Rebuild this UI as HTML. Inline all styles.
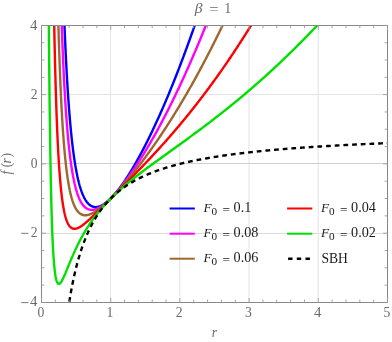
<!DOCTYPE html><html><head><meta charset="utf-8"><style>html,body{margin:0;padding:0;background:#fff}svg{display:block;will-change:transform}text{font-family:"Liberation Serif",serif;}</style></head><body>
<svg width="392" height="342" viewBox="0 0 392 342">
<rect width="392" height="342" fill="#fff"/>
<defs><clipPath id="c"><rect x="41.50" y="25.40" width="346.00" height="277.00"/></clipPath></defs>
<path d="M110.60,25.40 V302.40 M179.80,25.40 V302.40 M249.00,25.40 V302.40 M318.20,25.40 V302.40" stroke="#e3e3e3" stroke-width="1" fill="none"/>
<path d="M41.50,94.5 H387.50" stroke="#e3e3e3" stroke-width="1" fill="none"/>
<path d="M41.50,163.5 H387.50" stroke="#cfcfcf" stroke-width="1" fill="none"/>
<path d="M41.50,233.5 H387.50" stroke="#dcdcdc" stroke-width="1" fill="none"/>
<g clip-path="url(#c)" fill="none" stroke-linejoin="round">
<path d="M63.72,5.34 L63.83,8.47 L63.94,11.55 L64.06,14.58 L64.17,17.55 L64.28,20.47 L64.39,23.35 L64.51,26.17 L64.62,28.95 L64.73,31.68 L64.85,34.37 L64.96,37.01 L65.07,39.61 L65.19,42.16 L65.30,44.67 L65.41,47.15 L65.53,49.58 L65.64,51.97 L65.75,54.32 L65.87,56.64 L65.98,58.92 L66.09,61.16 L66.21,63.37 L66.32,65.54 L66.43,67.68 L66.55,69.78 L66.66,71.85 L66.77,73.89 L66.89,75.89 L67.00,77.87 L67.11,79.81 L67.23,81.72 L67.34,83.61 L67.45,85.46 L67.56,87.29 L67.68,89.09 L67.79,90.86 L67.90,92.60 L68.02,94.32 L68.13,96.01 L68.24,97.67 L68.36,99.31 L68.47,100.93 L68.58,102.52 L68.70,104.09 L68.81,105.63 L68.92,107.15 L69.04,108.65 L69.15,110.13 L69.26,111.58 L69.38,113.02 L69.49,114.43 L69.60,115.82 L69.72,117.19 L69.83,118.54 L69.94,119.87 L70.06,121.18 L70.17,122.48 L70.28,123.75 L70.40,125.00 L70.51,126.24 L70.62,127.46 L70.73,128.66 L70.85,129.85 L70.96,131.02 L71.07,132.17 L71.19,133.30 L71.30,134.42 L71.41,135.52 L71.53,136.61 L71.64,137.68 L71.75,138.74 L71.87,139.78 L71.98,140.80 L72.09,141.82 L72.21,142.81 L72.32,143.80 L72.43,144.77 L72.55,145.73 L72.66,146.67 L72.77,147.60 L72.89,148.52 L73.00,149.42 L73.11,150.31 L73.23,151.19 L73.34,152.06 L73.45,152.91 L73.57,153.76 L73.68,154.59 L73.79,155.41 L73.91,156.22 L74.02,157.01 L74.13,157.80 L74.24,158.58 L74.36,159.34 L74.47,160.10 L74.58,160.84 L74.70,161.57 L74.81,162.30 L74.92,163.01 L75.04,163.72 L75.15,164.41 L75.26,165.10 L75.38,165.77 L75.49,166.44 L75.60,167.10 L75.72,167.74 L75.83,168.38 L75.94,169.01 L76.06,169.64 L76.17,170.25 L76.28,170.86 L76.40,171.45 L76.51,172.04 L76.62,172.62 L76.74,173.19 L76.85,173.76 L76.96,174.32 L77.08,174.87 L77.19,175.41 L77.30,175.94 L77.41,176.47 L77.53,176.99 L77.64,177.51 L77.75,178.01 L77.87,178.51 L77.98,179.00 L78.09,179.49 L78.21,179.97 L78.32,180.44 L78.43,180.91 L78.55,181.37 L78.66,181.82 L78.77,182.27 L78.89,182.71 L79.00,183.14 L79.11,183.57 L79.23,183.99 L79.34,184.41 L79.45,184.82 L79.57,185.23 L79.68,185.63 L79.79,186.02 L79.91,186.41 L80.02,186.79 L80.13,187.17 L80.25,187.54 L80.36,187.91 L80.47,188.27 L80.58,188.63 L80.70,188.98 L80.81,189.33 L80.92,189.67 L81.04,190.01 L81.15,190.34 L81.26,190.67 L81.38,190.99 L81.49,191.31 L81.60,191.62 L81.72,191.93 L81.83,192.24 L81.94,192.54 L82.06,192.84 L82.17,193.13 L82.28,193.41 L82.40,193.70 L82.51,193.98 L82.62,194.25 L82.74,194.52 L82.85,194.79 L82.96,195.05 L83.08,195.31 L83.19,195.57 L83.30,195.82 L83.42,196.07 L83.53,196.31 L83.64,196.55 L83.75,196.79 L83.87,197.02 L83.98,197.25 L84.09,197.47 L84.21,197.70 L84.32,197.91 L84.43,198.13 L84.55,198.34 L84.66,198.55 L84.77,198.75 L84.89,198.96 L85.00,199.16 L85.11,199.35 L85.23,199.54 L85.34,199.73 L85.45,199.92 L85.57,200.10 L85.68,200.28 L85.79,200.46 L85.91,200.63 L86.02,200.80 L86.13,200.97 L86.25,201.13 L86.36,201.30 L86.47,201.46 L86.59,201.61 L86.70,201.77 L86.81,201.92 L86.92,202.07 L87.04,202.21 L87.15,202.35 L87.26,202.49 L87.38,202.63 L87.49,202.77 L87.60,202.90 L87.72,203.03 L87.83,203.16 L87.94,203.28 L88.06,203.41 L88.17,203.53 L88.28,203.64 L88.40,203.76 L88.51,203.87 L88.62,203.98 L88.74,204.09 L88.85,204.20 L88.96,204.30 L89.08,204.40 L89.19,204.50 L89.30,204.60 L89.42,204.69 L89.53,204.79 L89.64,204.88 L89.76,204.97 L89.87,205.05 L89.98,205.14 L90.09,205.22 L90.21,205.30 L90.32,205.38 L90.43,205.46 L90.55,205.53 L90.66,205.60 L90.77,205.67 L90.89,205.74 L91.00,205.81 L91.11,205.87 L91.23,205.94 L91.34,206.00 L91.45,206.06 L91.57,206.11 L91.68,206.17 L91.79,206.22 L91.91,206.27 L92.02,206.33 L92.13,206.37 L92.25,206.42 L92.36,206.47 L92.47,206.51 L92.59,206.55 L92.70,206.59 L92.81,206.63 L92.93,206.67 L93.04,206.70 L93.15,206.73 L93.26,206.77 L93.38,206.80 L93.49,206.83 L93.60,206.85 L93.72,206.88 L93.83,206.90 L93.94,206.93 L94.06,206.95 L94.17,206.97 L94.28,206.98 L94.40,207.00 L94.51,207.02 L94.62,207.03 L94.74,207.04 L94.85,207.05 L94.96,207.06 L95.08,207.07 L95.19,207.08 L95.30,207.08 L95.42,207.09 L95.53,207.09 L95.64,207.09 L95.76,207.09 L95.87,207.09 L95.98,207.09 L96.10,207.09 L96.21,207.08 L96.32,207.07 L96.43,207.07 L96.55,207.06 L96.66,207.05 L96.77,207.04 L96.89,207.02 L97.00,207.01 L97.11,206.99 L97.23,206.98 L97.34,206.96 L97.45,206.94 L97.57,206.92 L97.68,206.90 L97.79,206.88 L97.91,206.86 L98.02,206.83 L98.13,206.81 L98.25,206.78 L98.36,206.75 L98.47,206.72 L98.59,206.69 L98.70,206.66 L98.81,206.63 L98.93,206.60 L99.04,206.56 L99.15,206.53 L99.27,206.49 L99.38,206.46 L99.49,206.42 L99.60,206.38 L99.72,206.34 L99.83,206.30 L99.94,206.26 L100.06,206.21 L100.17,206.17 L100.28,206.12 L100.40,206.08 L100.51,206.03 L100.62,205.98 L100.74,205.93 L100.85,205.88 L100.96,205.83 L101.08,205.78 L101.19,205.73 L101.30,205.67 L101.42,205.62 L101.53,205.56 L101.64,205.51 L101.76,205.45 L101.87,205.39 L101.98,205.33 L102.10,205.27 L102.21,205.21 L102.32,205.15 L102.44,205.09 L102.55,205.02 L102.66,204.96 L102.77,204.89 L102.89,204.83 L103.00,204.76 L103.11,204.69 L103.23,204.63 L103.34,204.56 L103.45,204.49 L103.57,204.42 L103.68,204.34 L103.79,204.27 L103.91,204.20 L104.02,204.12 L104.13,204.05 L104.25,203.97 L104.36,203.90 L104.47,203.82 L104.59,203.74 L104.70,203.66 L104.81,203.58 L104.93,203.50 L105.04,203.42 L105.15,203.34 L105.27,203.26 L105.38,203.18 L105.49,203.09 L105.61,203.01 L105.72,202.92 L105.83,202.84 L105.94,202.75 L106.06,202.66 L106.17,202.58 L106.28,202.49 L106.40,202.40 L106.51,202.31 L106.62,202.22 L106.74,202.13 L106.85,202.03 L106.96,201.94 L107.08,201.85 L107.19,201.75 L107.30,201.66 L107.42,201.56 L107.53,201.47 L107.64,201.37 L107.76,201.27 L107.87,201.17 L107.98,201.08 L108.10,200.98 L108.21,200.88 L108.32,200.78 L108.44,200.67 L108.55,200.57 L108.66,200.47 L108.78,200.37 L108.89,200.26 L109.00,200.16 L109.11,200.05 L109.23,199.95 L109.34,199.84 L109.45,199.74 L109.57,199.63 L109.68,199.52 L109.79,199.41 L109.91,199.30 L110.02,199.19 L110.13,199.08 L110.25,198.97 L110.36,198.86 L110.47,198.75 L110.59,198.64 L110.70,198.53 L111.39,197.82 L112.09,197.10 L112.78,196.35 L113.47,195.59 L114.17,194.80 L114.86,194.00 L115.56,193.18 L116.25,192.35 L116.94,191.49 L117.64,190.62 L118.33,189.74 L119.02,188.83 L119.72,187.92 L120.41,186.98 L121.11,186.03 L121.80,185.07 L122.49,184.10 L123.19,183.10 L123.88,182.10 L124.57,181.08 L125.27,180.05 L125.96,179.01 L126.66,177.95 L127.35,176.88 L128.04,175.80 L128.74,174.70 L129.43,173.59 L130.12,172.47 L130.82,171.34 L131.51,170.20 L132.21,169.05 L132.90,167.88 L133.59,166.70 L134.29,165.51 L134.98,164.31 L135.67,163.10 L136.37,161.88 L137.06,160.65 L137.76,159.41 L138.45,158.15 L139.14,156.89 L139.84,155.62 L140.53,154.33 L141.22,153.04 L141.92,151.73 L142.61,150.42 L143.31,149.09 L144.00,147.76 L144.69,146.41 L145.39,145.06 L146.08,143.69 L146.77,142.32 L147.47,140.93 L148.16,139.54 L148.86,138.13 L149.55,136.72 L150.24,135.30 L150.94,133.87 L151.63,132.43 L152.32,130.98 L153.02,129.52 L153.71,128.05 L154.41,126.57 L155.10,125.08 L155.79,123.58 L156.49,122.08 L157.18,120.56 L157.87,119.04 L158.57,117.50 L159.26,115.96 L159.96,114.41 L160.65,112.85 L161.34,111.28 L162.04,109.70 L162.73,108.11 L163.42,106.51 L164.12,104.91 L164.81,103.29 L165.51,101.67 L166.20,100.04 L166.89,98.40 L167.59,96.75 L168.28,95.09 L168.97,93.42 L169.67,91.74 L170.36,90.06 L171.05,88.36 L171.75,86.66 L172.44,84.95 L173.14,83.23 L173.83,81.50 L174.52,79.76 L175.22,78.02 L175.91,76.26 L176.60,74.50 L177.30,72.72 L177.99,70.94 L178.69,69.15 L179.38,67.35 L180.07,65.55 L180.77,63.73 L181.46,61.91 L182.15,60.07 L182.85,58.23 L183.54,56.38 L184.24,54.52 L184.93,52.66 L185.62,50.78 L186.32,48.89 L187.01,47.00 L187.70,45.10 L188.40,43.19 L189.09,41.27 L189.79,39.34 L190.48,37.41 L191.17,35.46 L191.87,33.51 L192.56,31.55 L193.25,29.58 L193.95,27.60 L194.64,25.61 L195.34,23.61 L196.03,21.61 L196.72,19.59 L197.42,17.57 L198.11,15.54 L198.80,13.50 L199.50,11.46 L200.19,9.40 L200.89,7.34 L201.58,5.26 " stroke="#0000ff" stroke-width="2.4"/>
<path d="M61.11,7.06 L61.22,10.59 L61.34,14.05 L61.45,17.44 L61.56,20.76 L61.68,24.02 L61.79,27.22 L61.90,30.35 L62.02,33.43 L62.13,36.45 L62.24,39.41 L62.36,42.32 L62.47,45.17 L62.58,47.97 L62.70,50.71 L62.81,53.41 L62.92,56.05 L63.04,58.65 L63.15,61.20 L63.26,63.70 L63.38,66.16 L63.49,68.57 L63.60,70.94 L63.72,73.27 L63.83,75.56 L63.94,77.80 L64.06,80.01 L64.17,82.17 L64.28,84.30 L64.39,86.39 L64.51,88.45 L64.62,90.47 L64.73,92.45 L64.85,94.40 L64.96,96.31 L65.07,98.19 L65.19,100.04 L65.30,101.86 L65.41,103.65 L65.53,105.41 L65.64,107.13 L65.75,108.83 L65.87,110.50 L65.98,112.14 L66.09,113.75 L66.21,115.34 L66.32,116.90 L66.43,118.44 L66.55,119.94 L66.66,121.43 L66.77,122.89 L66.89,124.32 L67.00,125.73 L67.11,127.12 L67.23,128.49 L67.34,129.83 L67.45,131.15 L67.56,132.46 L67.68,133.73 L67.79,134.99 L67.90,136.23 L68.02,137.45 L68.13,138.65 L68.24,139.83 L68.36,140.99 L68.47,142.13 L68.58,143.26 L68.70,144.37 L68.81,145.45 L68.92,146.53 L69.04,147.58 L69.15,148.62 L69.26,149.64 L69.38,150.65 L69.49,151.64 L69.60,152.61 L69.72,153.57 L69.83,154.52 L69.94,155.45 L70.06,156.36 L70.17,157.27 L70.28,158.15 L70.40,159.03 L70.51,159.89 L70.62,160.73 L70.73,161.57 L70.85,162.39 L70.96,163.20 L71.07,164.00 L71.19,164.78 L71.30,165.55 L71.41,166.31 L71.53,167.06 L71.64,167.80 L71.75,168.52 L71.87,169.24 L71.98,169.94 L72.09,170.64 L72.21,171.32 L72.32,171.99 L72.43,172.65 L72.55,173.31 L72.66,173.95 L72.77,174.58 L72.89,175.20 L73.00,175.82 L73.11,176.42 L73.23,177.02 L73.34,177.60 L73.45,178.18 L73.57,178.75 L73.68,179.31 L73.79,179.86 L73.91,180.40 L74.02,180.94 L74.13,181.47 L74.24,181.99 L74.36,182.50 L74.47,183.00 L74.58,183.50 L74.70,183.98 L74.81,184.47 L74.92,184.94 L75.04,185.41 L75.15,185.87 L75.26,186.32 L75.38,186.76 L75.49,187.20 L75.60,187.63 L75.72,188.06 L75.83,188.48 L75.94,188.89 L76.06,189.30 L76.17,189.70 L76.28,190.09 L76.40,190.48 L76.51,190.86 L76.62,191.24 L76.74,191.61 L76.85,191.98 L76.96,192.34 L77.08,192.69 L77.19,193.04 L77.30,193.38 L77.41,193.72 L77.53,194.05 L77.64,194.38 L77.75,194.70 L77.87,195.02 L77.98,195.33 L78.09,195.64 L78.21,195.94 L78.32,196.24 L78.43,196.53 L78.55,196.82 L78.66,197.10 L78.77,197.38 L78.89,197.66 L79.00,197.93 L79.11,198.19 L79.23,198.45 L79.34,198.71 L79.45,198.96 L79.57,199.21 L79.68,199.46 L79.79,199.70 L79.91,199.94 L80.02,200.17 L80.13,200.40 L80.25,200.63 L80.36,200.85 L80.47,201.07 L80.58,201.28 L80.70,201.49 L80.81,201.70 L80.92,201.90 L81.04,202.10 L81.15,202.30 L81.26,202.49 L81.38,202.68 L81.49,202.87 L81.60,203.05 L81.72,203.23 L81.83,203.41 L81.94,203.58 L82.06,203.75 L82.17,203.92 L82.28,204.09 L82.40,204.25 L82.51,204.41 L82.62,204.56 L82.74,204.72 L82.85,204.87 L82.96,205.01 L83.08,205.16 L83.19,205.30 L83.30,205.44 L83.42,205.57 L83.53,205.71 L83.64,205.84 L83.75,205.97 L83.87,206.09 L83.98,206.21 L84.09,206.34 L84.21,206.45 L84.32,206.57 L84.43,206.68 L84.55,206.79 L84.66,206.90 L84.77,207.01 L84.89,207.11 L85.00,207.21 L85.11,207.31 L85.23,207.41 L85.34,207.50 L85.45,207.59 L85.57,207.69 L85.68,207.77 L85.79,207.86 L85.91,207.94 L86.02,208.02 L86.13,208.10 L86.25,208.18 L86.36,208.26 L86.47,208.33 L86.59,208.40 L86.70,208.47 L86.81,208.54 L86.92,208.61 L87.04,208.67 L87.15,208.73 L87.26,208.79 L87.38,208.85 L87.49,208.91 L87.60,208.96 L87.72,209.02 L87.83,209.07 L87.94,209.12 L88.06,209.17 L88.17,209.21 L88.28,209.26 L88.40,209.30 L88.51,209.34 L88.62,209.38 L88.74,209.42 L88.85,209.45 L88.96,209.49 L89.08,209.52 L89.19,209.55 L89.30,209.58 L89.42,209.61 L89.53,209.64 L89.64,209.67 L89.76,209.69 L89.87,209.71 L89.98,209.73 L90.09,209.75 L90.21,209.77 L90.32,209.79 L90.43,209.81 L90.55,209.82 L90.66,209.83 L90.77,209.84 L90.89,209.85 L91.00,209.86 L91.11,209.87 L91.23,209.88 L91.34,209.88 L91.45,209.89 L91.57,209.89 L91.68,209.89 L91.79,209.89 L91.91,209.89 L92.02,209.89 L92.13,209.88 L92.25,209.88 L92.36,209.87 L92.47,209.86 L92.59,209.86 L92.70,209.85 L92.81,209.84 L92.93,209.82 L93.04,209.81 L93.15,209.80 L93.26,209.78 L93.38,209.77 L93.49,209.75 L93.60,209.73 L93.72,209.71 L93.83,209.69 L93.94,209.67 L94.06,209.65 L94.17,209.62 L94.28,209.60 L94.40,209.57 L94.51,209.55 L94.62,209.52 L94.74,209.49 L94.85,209.46 L94.96,209.43 L95.08,209.40 L95.19,209.37 L95.30,209.34 L95.42,209.30 L95.53,209.27 L95.64,209.23 L95.76,209.19 L95.87,209.16 L95.98,209.12 L96.10,209.08 L96.21,209.04 L96.32,209.00 L96.43,208.95 L96.55,208.91 L96.66,208.87 L96.77,208.82 L96.89,208.78 L97.00,208.73 L97.11,208.68 L97.23,208.64 L97.34,208.59 L97.45,208.54 L97.57,208.49 L97.68,208.44 L97.79,208.38 L97.91,208.33 L98.02,208.28 L98.13,208.22 L98.25,208.17 L98.36,208.11 L98.47,208.06 L98.59,208.00 L98.70,207.94 L98.81,207.88 L98.93,207.82 L99.04,207.76 L99.15,207.70 L99.27,207.64 L99.38,207.58 L99.49,207.52 L99.60,207.45 L99.72,207.39 L99.83,207.32 L99.94,207.26 L100.06,207.19 L100.17,207.12 L100.28,207.06 L100.40,206.99 L100.51,206.92 L100.62,206.85 L100.74,206.78 L100.85,206.71 L100.96,206.64 L101.08,206.57 L101.19,206.49 L101.30,206.42 L101.42,206.35 L101.53,206.27 L101.64,206.20 L101.76,206.12 L101.87,206.04 L101.98,205.97 L102.10,205.89 L102.21,205.81 L102.32,205.73 L102.44,205.65 L102.55,205.57 L102.66,205.49 L102.77,205.41 L102.89,205.33 L103.00,205.25 L103.11,205.17 L103.23,205.08 L103.34,205.00 L103.45,204.91 L103.57,204.83 L103.68,204.74 L103.79,204.66 L103.91,204.57 L104.02,204.48 L104.13,204.40 L104.25,204.31 L104.36,204.22 L104.47,204.13 L104.59,204.04 L104.70,203.95 L104.81,203.86 L104.93,203.77 L105.04,203.68 L105.15,203.59 L105.27,203.49 L105.38,203.40 L105.49,203.31 L105.61,203.21 L105.72,203.12 L105.83,203.02 L105.94,202.93 L106.06,202.83 L106.17,202.74 L106.28,202.64 L106.40,202.54 L106.51,202.44 L106.62,202.35 L106.74,202.25 L106.85,202.15 L106.96,202.05 L107.08,201.95 L107.19,201.85 L107.30,201.75 L107.42,201.65 L107.53,201.54 L107.64,201.44 L107.76,201.34 L107.87,201.24 L107.98,201.13 L108.10,201.03 L108.21,200.92 L108.32,200.82 L108.44,200.71 L108.55,200.61 L108.66,200.50 L108.78,200.40 L108.89,200.29 L109.00,200.18 L109.11,200.07 L109.23,199.97 L109.34,199.86 L109.45,199.75 L109.57,199.64 L109.68,199.53 L109.79,199.42 L109.91,199.31 L110.02,199.20 L110.13,199.09 L110.25,198.98 L110.36,198.86 L110.47,198.75 L110.59,198.64 L110.70,198.53 L111.39,197.82 L112.09,197.11 L112.78,196.38 L113.47,195.64 L114.17,194.89 L114.86,194.12 L115.56,193.34 L116.25,192.55 L116.94,191.75 L117.64,190.94 L118.33,190.12 L119.02,189.28 L119.72,188.44 L120.41,187.59 L121.11,186.72 L121.80,185.85 L122.49,184.96 L123.19,184.07 L123.88,183.17 L124.57,182.26 L125.27,181.34 L125.96,180.41 L126.66,179.47 L127.35,178.52 L128.04,177.57 L128.74,176.60 L129.43,175.63 L130.12,174.65 L130.82,173.66 L131.51,172.66 L132.21,171.66 L132.90,170.65 L133.59,169.62 L134.29,168.60 L134.98,167.56 L135.67,166.52 L136.37,165.46 L137.06,164.40 L137.76,163.34 L138.45,162.26 L139.14,161.18 L139.84,160.09 L140.53,159.00 L141.22,157.89 L141.92,156.78 L142.61,155.67 L143.31,154.54 L144.00,153.41 L144.69,152.27 L145.39,151.13 L146.08,149.97 L146.77,148.81 L147.47,147.65 L148.16,146.47 L148.86,145.29 L149.55,144.10 L150.24,142.91 L150.94,141.71 L151.63,140.50 L152.32,139.28 L153.02,138.06 L153.71,136.83 L154.41,135.60 L155.10,134.36 L155.79,133.11 L156.49,131.85 L157.18,130.59 L157.87,129.32 L158.57,128.04 L159.26,126.76 L159.96,125.47 L160.65,124.18 L161.34,122.87 L162.04,121.56 L162.73,120.25 L163.42,118.93 L164.12,117.60 L164.81,116.26 L165.51,114.92 L166.20,113.57 L166.89,112.21 L167.59,110.85 L168.28,109.48 L168.97,108.11 L169.67,106.73 L170.36,105.34 L171.05,103.94 L171.75,102.54 L172.44,101.13 L173.14,99.72 L173.83,98.30 L174.52,96.87 L175.22,95.44 L175.91,93.99 L176.60,92.55 L177.30,91.09 L177.99,89.63 L178.69,88.16 L179.38,86.69 L180.07,85.21 L180.77,83.72 L181.46,82.23 L182.15,80.73 L182.85,79.22 L183.54,77.71 L184.24,76.19 L184.93,74.66 L185.62,73.13 L186.32,71.59 L187.01,70.04 L187.70,68.49 L188.40,66.93 L189.09,65.36 L189.79,63.79 L190.48,62.21 L191.17,60.63 L191.87,59.04 L192.56,57.44 L193.25,55.83 L193.95,54.22 L194.64,52.60 L195.34,50.98 L196.03,49.34 L196.72,47.71 L197.42,46.06 L198.11,44.41 L198.80,42.75 L199.50,41.09 L200.19,39.41 L200.89,37.74 L201.58,36.05 L202.27,34.36 L202.97,32.66 L203.66,30.96 L204.35,29.25 L205.05,27.53 L205.74,25.81 L206.44,24.08 L207.13,22.34 L207.82,20.59 L208.52,18.84 L209.21,17.09 L209.90,15.32 L210.60,13.55 L211.29,11.77 L211.99,9.99 L212.68,8.20 L213.37,6.40 " stroke="#ff00ff" stroke-width="2.4"/>
<path d="M57.94,9.02 L58.05,13.31 L58.17,17.50 L58.28,21.59 L58.39,25.58 L58.51,29.49 L58.62,33.30 L58.73,37.02 L58.85,40.66 L58.96,44.22 L59.07,47.70 L59.19,51.10 L59.30,54.42 L59.41,57.67 L59.53,60.84 L59.64,63.95 L59.75,66.98 L59.87,69.96 L59.98,72.86 L60.09,75.70 L60.21,78.49 L60.32,81.21 L60.43,83.87 L60.55,86.48 L60.66,89.03 L60.77,91.52 L60.89,93.97 L61.00,96.36 L61.11,98.70 L61.22,101.00 L61.34,103.24 L61.45,105.44 L61.56,107.60 L61.68,109.71 L61.79,111.77 L61.90,113.80 L62.02,115.78 L62.13,117.73 L62.24,119.63 L62.36,121.50 L62.47,123.32 L62.58,125.12 L62.70,126.87 L62.81,128.59 L62.92,130.28 L63.04,131.93 L63.15,133.56 L63.26,135.15 L63.38,136.70 L63.49,138.23 L63.60,139.73 L63.72,141.20 L63.83,142.64 L63.94,144.05 L64.06,145.44 L64.17,146.80 L64.28,148.13 L64.39,149.44 L64.51,150.72 L64.62,151.98 L64.73,153.22 L64.85,154.43 L64.96,155.62 L65.07,156.78 L65.19,157.93 L65.30,159.05 L65.41,160.15 L65.53,161.24 L65.64,162.30 L65.75,163.34 L65.87,164.36 L65.98,165.36 L66.09,166.35 L66.21,167.32 L66.32,168.26 L66.43,169.20 L66.55,170.11 L66.66,171.01 L66.77,171.89 L66.89,172.75 L67.00,173.60 L67.11,174.44 L67.23,175.26 L67.34,176.06 L67.45,176.85 L67.56,177.62 L67.68,178.38 L67.79,179.13 L67.90,179.86 L68.02,180.59 L68.13,181.29 L68.24,181.99 L68.36,182.67 L68.47,183.34 L68.58,184.00 L68.70,184.64 L68.81,185.28 L68.92,185.90 L69.04,186.51 L69.15,187.11 L69.26,187.70 L69.38,188.28 L69.49,188.85 L69.60,189.41 L69.72,189.96 L69.83,190.50 L69.94,191.03 L70.06,191.55 L70.17,192.06 L70.28,192.56 L70.40,193.05 L70.51,193.53 L70.62,194.01 L70.73,194.47 L70.85,194.93 L70.96,195.38 L71.07,195.82 L71.19,196.26 L71.30,196.68 L71.41,197.10 L71.53,197.51 L71.64,197.91 L71.75,198.31 L71.87,198.70 L71.98,199.08 L72.09,199.45 L72.21,199.82 L72.32,200.18 L72.43,200.54 L72.55,200.89 L72.66,201.23 L72.77,201.56 L72.89,201.89 L73.00,202.22 L73.11,202.53 L73.23,202.84 L73.34,203.15 L73.45,203.45 L73.57,203.74 L73.68,204.03 L73.79,204.31 L73.91,204.59 L74.02,204.86 L74.13,205.13 L74.24,205.39 L74.36,205.65 L74.47,205.90 L74.58,206.15 L74.70,206.39 L74.81,206.63 L74.92,206.87 L75.04,207.10 L75.15,207.32 L75.26,207.54 L75.38,207.76 L75.49,207.97 L75.60,208.17 L75.72,208.38 L75.83,208.58 L75.94,208.77 L76.06,208.96 L76.17,209.15 L76.28,209.33 L76.40,209.51 L76.51,209.69 L76.62,209.86 L76.74,210.03 L76.85,210.19 L76.96,210.35 L77.08,210.51 L77.19,210.67 L77.30,210.82 L77.41,210.97 L77.53,211.11 L77.64,211.25 L77.75,211.39 L77.87,211.52 L77.98,211.66 L78.09,211.78 L78.21,211.91 L78.32,212.03 L78.43,212.15 L78.55,212.27 L78.66,212.38 L78.77,212.50 L78.89,212.60 L79.00,212.71 L79.11,212.81 L79.23,212.92 L79.34,213.01 L79.45,213.11 L79.57,213.20 L79.68,213.29 L79.79,213.38 L79.91,213.47 L80.02,213.55 L80.13,213.63 L80.25,213.71 L80.36,213.79 L80.47,213.86 L80.58,213.93 L80.70,214.00 L80.81,214.07 L80.92,214.13 L81.04,214.20 L81.15,214.26 L81.26,214.32 L81.38,214.37 L81.49,214.43 L81.60,214.48 L81.72,214.53 L81.83,214.58 L81.94,214.63 L82.06,214.67 L82.17,214.72 L82.28,214.76 L82.40,214.80 L82.51,214.84 L82.62,214.87 L82.74,214.91 L82.85,214.94 L82.96,214.97 L83.08,215.00 L83.19,215.03 L83.30,215.06 L83.42,215.08 L83.53,215.10 L83.64,215.13 L83.75,215.15 L83.87,215.16 L83.98,215.18 L84.09,215.20 L84.21,215.21 L84.32,215.22 L84.43,215.23 L84.55,215.24 L84.66,215.25 L84.77,215.26 L84.89,215.26 L85.00,215.27 L85.11,215.27 L85.23,215.27 L85.34,215.27 L85.45,215.27 L85.57,215.27 L85.68,215.27 L85.79,215.26 L85.91,215.25 L86.02,215.25 L86.13,215.24 L86.25,215.23 L86.36,215.22 L86.47,215.21 L86.59,215.19 L86.70,215.18 L86.81,215.16 L86.92,215.15 L87.04,215.13 L87.15,215.11 L87.26,215.09 L87.38,215.07 L87.49,215.05 L87.60,215.03 L87.72,215.00 L87.83,214.98 L87.94,214.95 L88.06,214.93 L88.17,214.90 L88.28,214.87 L88.40,214.84 L88.51,214.81 L88.62,214.78 L88.74,214.74 L88.85,214.71 L88.96,214.68 L89.08,214.64 L89.19,214.61 L89.30,214.57 L89.42,214.53 L89.53,214.49 L89.64,214.45 L89.76,214.41 L89.87,214.37 L89.98,214.33 L90.09,214.29 L90.21,214.24 L90.32,214.20 L90.43,214.15 L90.55,214.11 L90.66,214.06 L90.77,214.02 L90.89,213.97 L91.00,213.92 L91.11,213.87 L91.23,213.82 L91.34,213.77 L91.45,213.72 L91.57,213.66 L91.68,213.61 L91.79,213.56 L91.91,213.50 L92.02,213.45 L92.13,213.39 L92.25,213.34 L92.36,213.28 L92.47,213.22 L92.59,213.16 L92.70,213.10 L92.81,213.04 L92.93,212.98 L93.04,212.92 L93.15,212.86 L93.26,212.80 L93.38,212.74 L93.49,212.67 L93.60,212.61 L93.72,212.55 L93.83,212.48 L93.94,212.42 L94.06,212.35 L94.17,212.28 L94.28,212.22 L94.40,212.15 L94.51,212.08 L94.62,212.01 L94.74,211.94 L94.85,211.87 L94.96,211.80 L95.08,211.73 L95.19,211.66 L95.30,211.59 L95.42,211.52 L95.53,211.44 L95.64,211.37 L95.76,211.30 L95.87,211.22 L95.98,211.15 L96.10,211.07 L96.21,211.00 L96.32,210.92 L96.43,210.84 L96.55,210.77 L96.66,210.69 L96.77,210.61 L96.89,210.53 L97.00,210.45 L97.11,210.37 L97.23,210.29 L97.34,210.21 L97.45,210.13 L97.57,210.05 L97.68,209.97 L97.79,209.89 L97.91,209.81 L98.02,209.72 L98.13,209.64 L98.25,209.56 L98.36,209.47 L98.47,209.39 L98.59,209.31 L98.70,209.22 L98.81,209.13 L98.93,209.05 L99.04,208.96 L99.15,208.88 L99.27,208.79 L99.38,208.70 L99.49,208.61 L99.60,208.53 L99.72,208.44 L99.83,208.35 L99.94,208.26 L100.06,208.17 L100.17,208.08 L100.28,207.99 L100.40,207.90 L100.51,207.81 L100.62,207.72 L100.74,207.63 L100.85,207.54 L100.96,207.44 L101.08,207.35 L101.19,207.26 L101.30,207.17 L101.42,207.07 L101.53,206.98 L101.64,206.89 L101.76,206.79 L101.87,206.70 L101.98,206.60 L102.10,206.51 L102.21,206.41 L102.32,206.32 L102.44,206.22 L102.55,206.12 L102.66,206.03 L102.77,205.93 L102.89,205.83 L103.00,205.73 L103.11,205.64 L103.23,205.54 L103.34,205.44 L103.45,205.34 L103.57,205.24 L103.68,205.14 L103.79,205.04 L103.91,204.94 L104.02,204.84 L104.13,204.74 L104.25,204.64 L104.36,204.54 L104.47,204.44 L104.59,204.34 L104.70,204.24 L104.81,204.14 L104.93,204.03 L105.04,203.93 L105.15,203.83 L105.27,203.73 L105.38,203.62 L105.49,203.52 L105.61,203.42 L105.72,203.31 L105.83,203.21 L105.94,203.10 L106.06,203.00 L106.17,202.90 L106.28,202.79 L106.40,202.68 L106.51,202.58 L106.62,202.47 L106.74,202.37 L106.85,202.26 L106.96,202.16 L107.08,202.05 L107.19,201.94 L107.30,201.83 L107.42,201.73 L107.53,201.62 L107.64,201.51 L107.76,201.40 L107.87,201.30 L107.98,201.19 L108.10,201.08 L108.21,200.97 L108.32,200.86 L108.44,200.75 L108.55,200.64 L108.66,200.53 L108.78,200.42 L108.89,200.31 L109.00,200.20 L109.11,200.09 L109.23,199.98 L109.34,199.87 L109.45,199.76 L109.57,199.65 L109.68,199.54 L109.79,199.43 L109.91,199.31 L110.02,199.20 L110.13,199.09 L110.25,198.98 L110.36,198.86 L110.47,198.75 L110.59,198.64 L110.70,198.53 L111.39,197.83 L112.09,197.12 L112.78,196.41 L113.47,195.69 L114.17,194.97 L114.86,194.24 L115.56,193.50 L116.25,192.76 L116.94,192.01 L117.64,191.26 L118.33,190.50 L119.02,189.74 L119.72,188.97 L120.41,188.19 L121.11,187.41 L121.80,186.62 L122.49,185.83 L123.19,185.04 L123.88,184.24 L124.57,183.43 L125.27,182.62 L125.96,181.81 L126.66,180.99 L127.35,180.17 L128.04,179.34 L128.74,178.50 L129.43,177.67 L130.12,176.82 L130.82,175.98 L131.51,175.13 L132.21,174.27 L132.90,173.41 L133.59,172.55 L134.29,171.68 L134.98,170.80 L135.67,169.93 L136.37,169.04 L137.06,168.16 L137.76,167.27 L138.45,166.37 L139.14,165.48 L139.84,164.57 L140.53,163.66 L141.22,162.75 L141.92,161.84 L142.61,160.92 L143.31,159.99 L144.00,159.06 L144.69,158.13 L145.39,157.19 L146.08,156.25 L146.77,155.31 L147.47,154.36 L148.16,153.40 L148.86,152.45 L149.55,151.48 L150.24,150.52 L150.94,149.55 L151.63,148.57 L152.32,147.59 L153.02,146.61 L153.71,145.62 L154.41,144.63 L155.10,143.63 L155.79,142.63 L156.49,141.63 L157.18,140.62 L157.87,139.60 L158.57,138.58 L159.26,137.56 L159.96,136.54 L160.65,135.51 L161.34,134.47 L162.04,133.43 L162.73,132.39 L163.42,131.34 L164.12,130.29 L164.81,129.23 L165.51,128.17 L166.20,127.10 L166.89,126.03 L167.59,124.96 L168.28,123.88 L168.97,122.80 L169.67,121.71 L170.36,120.62 L171.05,119.52 L171.75,118.42 L172.44,117.32 L173.14,116.21 L173.83,115.10 L174.52,113.98 L175.22,112.85 L175.91,111.73 L176.60,110.60 L177.30,109.46 L177.99,108.32 L178.69,107.17 L179.38,106.03 L180.07,104.87 L180.77,103.71 L181.46,102.55 L182.15,101.38 L182.85,100.21 L183.54,99.03 L184.24,97.85 L184.93,96.67 L185.62,95.48 L186.32,94.28 L187.01,93.08 L187.70,91.88 L188.40,90.67 L189.09,89.46 L189.79,88.24 L190.48,87.02 L191.17,85.79 L191.87,84.56 L192.56,83.33 L193.25,82.09 L193.95,80.84 L194.64,79.59 L195.34,78.34 L196.03,77.08 L196.72,75.82 L197.42,74.55 L198.11,73.27 L198.80,72.00 L199.50,70.72 L200.19,69.43 L200.89,68.14 L201.58,66.84 L202.27,65.54 L202.97,64.24 L203.66,62.93 L204.35,61.61 L205.05,60.29 L205.74,58.97 L206.44,57.64 L207.13,56.31 L207.82,54.97 L208.52,53.62 L209.21,52.28 L209.90,50.92 L210.60,49.57 L211.29,48.20 L211.99,46.84 L212.68,45.47 L213.37,44.09 L214.07,42.71 L214.76,41.32 L215.45,39.93 L216.15,38.54 L216.84,37.14 L217.54,35.73 L218.23,34.33 L218.92,32.91 L219.62,31.49 L220.31,30.07 L221.00,28.64 L221.70,27.21 L222.39,25.77 L223.08,24.32 L223.78,22.88 L224.47,21.42 L225.17,19.97 L225.86,18.50 L226.55,17.04 L227.25,15.57 L227.94,14.09 L228.63,12.61 L229.33,11.12 L230.02,9.63 L230.72,8.13 L231.41,6.63 L232.10,5.13 " stroke="#9f672f" stroke-width="2.4"/>
<path d="M53.87,6.02 L53.98,12.34 L54.09,18.46 L54.21,24.38 L54.32,30.12 L54.43,35.68 L54.55,41.06 L54.66,46.28 L54.77,51.34 L54.88,56.25 L55.00,61.01 L55.11,65.62 L55.22,70.10 L55.34,74.44 L55.45,78.65 L55.56,82.74 L55.68,86.71 L55.79,90.57 L55.90,94.31 L56.02,97.95 L56.13,101.48 L56.24,104.91 L56.36,108.24 L56.47,111.48 L56.58,114.62 L56.70,117.68 L56.81,120.66 L56.92,123.55 L57.04,126.36 L57.15,129.09 L57.26,131.75 L57.38,134.34 L57.49,136.85 L57.60,139.30 L57.72,141.68 L57.83,144.00 L57.94,146.26 L58.05,148.45 L58.17,150.59 L58.28,152.67 L58.39,154.70 L58.51,156.67 L58.62,158.59 L58.73,160.46 L58.85,162.28 L58.96,164.06 L59.07,165.78 L59.19,167.47 L59.30,169.11 L59.41,170.71 L59.53,172.26 L59.64,173.78 L59.75,175.26 L59.87,176.70 L59.98,178.11 L60.09,179.47 L60.21,180.81 L60.32,182.11 L60.43,183.38 L60.55,184.61 L60.66,185.82 L60.77,186.99 L60.89,188.14 L61.00,189.25 L61.11,190.34 L61.22,191.41 L61.34,192.44 L61.45,193.45 L61.56,194.43 L61.68,195.39 L61.79,196.33 L61.90,197.24 L62.02,198.13 L62.13,199.00 L62.24,199.85 L62.36,200.67 L62.47,201.48 L62.58,202.27 L62.70,203.03 L62.81,203.78 L62.92,204.51 L63.04,205.22 L63.15,205.91 L63.26,206.59 L63.38,207.25 L63.49,207.89 L63.60,208.52 L63.72,209.13 L63.83,209.72 L63.94,210.31 L64.06,210.87 L64.17,211.42 L64.28,211.96 L64.39,212.49 L64.51,213.00 L64.62,213.50 L64.73,213.99 L64.85,214.46 L64.96,214.92 L65.07,215.37 L65.19,215.81 L65.30,216.24 L65.41,216.66 L65.53,217.06 L65.64,217.46 L65.75,217.85 L65.87,218.22 L65.98,218.59 L66.09,218.94 L66.21,219.29 L66.32,219.63 L66.43,219.96 L66.55,220.28 L66.66,220.59 L66.77,220.89 L66.89,221.18 L67.00,221.47 L67.11,221.75 L67.23,222.02 L67.34,222.29 L67.45,222.54 L67.56,222.79 L67.68,223.03 L67.79,223.27 L67.90,223.50 L68.02,223.72 L68.13,223.93 L68.24,224.14 L68.36,224.35 L68.47,224.54 L68.58,224.73 L68.70,224.92 L68.81,225.10 L68.92,225.27 L69.04,225.44 L69.15,225.60 L69.26,225.76 L69.38,225.91 L69.49,226.06 L69.60,226.20 L69.72,226.34 L69.83,226.48 L69.94,226.60 L70.06,226.73 L70.17,226.85 L70.28,226.96 L70.40,227.07 L70.51,227.18 L70.62,227.28 L70.73,227.38 L70.85,227.47 L70.96,227.57 L71.07,227.65 L71.19,227.74 L71.30,227.81 L71.41,227.89 L71.53,227.96 L71.64,228.03 L71.75,228.10 L71.87,228.16 L71.98,228.22 L72.09,228.27 L72.21,228.33 L72.32,228.38 L72.43,228.42 L72.55,228.47 L72.66,228.51 L72.77,228.55 L72.89,228.58 L73.00,228.61 L73.11,228.64 L73.23,228.67 L73.34,228.69 L73.45,228.72 L73.57,228.74 L73.68,228.75 L73.79,228.77 L73.91,228.78 L74.02,228.79 L74.13,228.80 L74.24,228.80 L74.36,228.81 L74.47,228.81 L74.58,228.81 L74.70,228.81 L74.81,228.80 L74.92,228.79 L75.04,228.79 L75.15,228.77 L75.26,228.76 L75.38,228.75 L75.49,228.73 L75.60,228.71 L75.72,228.69 L75.83,228.67 L75.94,228.65 L76.06,228.63 L76.17,228.60 L76.28,228.57 L76.40,228.54 L76.51,228.51 L76.62,228.48 L76.74,228.44 L76.85,228.41 L76.96,228.37 L77.08,228.33 L77.19,228.29 L77.30,228.25 L77.41,228.21 L77.53,228.17 L77.64,228.12 L77.75,228.08 L77.87,228.03 L77.98,227.98 L78.09,227.93 L78.21,227.88 L78.32,227.83 L78.43,227.78 L78.55,227.72 L78.66,227.67 L78.77,227.61 L78.89,227.55 L79.00,227.50 L79.11,227.44 L79.23,227.38 L79.34,227.31 L79.45,227.25 L79.57,227.19 L79.68,227.13 L79.79,227.06 L79.91,226.99 L80.02,226.93 L80.13,226.86 L80.25,226.79 L80.36,226.72 L80.47,226.65 L80.58,226.58 L80.70,226.51 L80.81,226.44 L80.92,226.36 L81.04,226.29 L81.15,226.22 L81.26,226.14 L81.38,226.06 L81.49,225.99 L81.60,225.91 L81.72,225.83 L81.83,225.75 L81.94,225.67 L82.06,225.59 L82.17,225.51 L82.28,225.43 L82.40,225.35 L82.51,225.27 L82.62,225.19 L82.74,225.10 L82.85,225.02 L82.96,224.93 L83.08,224.85 L83.19,224.76 L83.30,224.68 L83.42,224.59 L83.53,224.50 L83.64,224.41 L83.75,224.33 L83.87,224.24 L83.98,224.15 L84.09,224.06 L84.21,223.97 L84.32,223.88 L84.43,223.79 L84.55,223.69 L84.66,223.60 L84.77,223.51 L84.89,223.42 L85.00,223.32 L85.11,223.23 L85.23,223.14 L85.34,223.04 L85.45,222.95 L85.57,222.85 L85.68,222.76 L85.79,222.66 L85.91,222.57 L86.02,222.47 L86.13,222.37 L86.25,222.28 L86.36,222.18 L86.47,222.08 L86.59,221.98 L86.70,221.89 L86.81,221.79 L86.92,221.69 L87.04,221.59 L87.15,221.49 L87.26,221.39 L87.38,221.29 L87.49,221.19 L87.60,221.09 L87.72,220.99 L87.83,220.89 L87.94,220.79 L88.06,220.69 L88.17,220.58 L88.28,220.48 L88.40,220.38 L88.51,220.28 L88.62,220.17 L88.74,220.07 L88.85,219.97 L88.96,219.86 L89.08,219.76 L89.19,219.66 L89.30,219.55 L89.42,219.45 L89.53,219.35 L89.64,219.24 L89.76,219.14 L89.87,219.03 L89.98,218.93 L90.09,218.82 L90.21,218.72 L90.32,218.61 L90.43,218.50 L90.55,218.40 L90.66,218.29 L90.77,218.19 L90.89,218.08 L91.00,217.97 L91.11,217.87 L91.23,217.76 L91.34,217.65 L91.45,217.55 L91.57,217.44 L91.68,217.33 L91.79,217.22 L91.91,217.12 L92.02,217.01 L92.13,216.90 L92.25,216.79 L92.36,216.68 L92.47,216.58 L92.59,216.47 L92.70,216.36 L92.81,216.25 L92.93,216.14 L93.04,216.03 L93.15,215.93 L93.26,215.82 L93.38,215.71 L93.49,215.60 L93.60,215.49 L93.72,215.38 L93.83,215.27 L93.94,215.16 L94.06,215.05 L94.17,214.94 L94.28,214.83 L94.40,214.72 L94.51,214.61 L94.62,214.50 L94.74,214.39 L94.85,214.28 L94.96,214.17 L95.08,214.06 L95.19,213.95 L95.30,213.84 L95.42,213.73 L95.53,213.62 L95.64,213.51 L95.76,213.40 L95.87,213.29 L95.98,213.18 L96.10,213.06 L96.21,212.95 L96.32,212.84 L96.43,212.73 L96.55,212.62 L96.66,212.51 L96.77,212.40 L96.89,212.29 L97.00,212.17 L97.11,212.06 L97.23,211.95 L97.34,211.84 L97.45,211.73 L97.57,211.62 L97.68,211.51 L97.79,211.39 L97.91,211.28 L98.02,211.17 L98.13,211.06 L98.25,210.95 L98.36,210.83 L98.47,210.72 L98.59,210.61 L98.70,210.50 L98.81,210.39 L98.93,210.27 L99.04,210.16 L99.15,210.05 L99.27,209.94 L99.38,209.83 L99.49,209.71 L99.60,209.60 L99.72,209.49 L99.83,209.38 L99.94,209.26 L100.06,209.15 L100.17,209.04 L100.28,208.93 L100.40,208.81 L100.51,208.70 L100.62,208.59 L100.74,208.48 L100.85,208.36 L100.96,208.25 L101.08,208.14 L101.19,208.03 L101.30,207.91 L101.42,207.80 L101.53,207.69 L101.64,207.57 L101.76,207.46 L101.87,207.35 L101.98,207.24 L102.10,207.12 L102.21,207.01 L102.32,206.90 L102.44,206.79 L102.55,206.67 L102.66,206.56 L102.77,206.45 L102.89,206.33 L103.00,206.22 L103.11,206.11 L103.23,205.99 L103.34,205.88 L103.45,205.77 L103.57,205.66 L103.68,205.54 L103.79,205.43 L103.91,205.32 L104.02,205.20 L104.13,205.09 L104.25,204.98 L104.36,204.86 L104.47,204.75 L104.59,204.64 L104.70,204.53 L104.81,204.41 L104.93,204.30 L105.04,204.19 L105.15,204.07 L105.27,203.96 L105.38,203.85 L105.49,203.73 L105.61,203.62 L105.72,203.51 L105.83,203.39 L105.94,203.28 L106.06,203.17 L106.17,203.05 L106.28,202.94 L106.40,202.83 L106.51,202.72 L106.62,202.60 L106.74,202.49 L106.85,202.38 L106.96,202.26 L107.08,202.15 L107.19,202.04 L107.30,201.92 L107.42,201.81 L107.53,201.70 L107.64,201.58 L107.76,201.47 L107.87,201.36 L107.98,201.24 L108.10,201.13 L108.21,201.02 L108.32,200.90 L108.44,200.79 L108.55,200.68 L108.66,200.56 L108.78,200.45 L108.89,200.34 L109.00,200.22 L109.11,200.11 L109.23,200.00 L109.34,199.88 L109.45,199.77 L109.57,199.66 L109.68,199.54 L109.79,199.43 L109.91,199.32 L110.02,199.20 L110.13,199.09 L110.25,198.98 L110.36,198.86 L110.47,198.75 L110.59,198.64 L110.70,198.53 L111.39,197.83 L112.09,197.14 L112.78,196.44 L113.47,195.75 L114.17,195.05 L114.86,194.36 L115.56,193.66 L116.25,192.97 L116.94,192.27 L117.64,191.58 L118.33,190.88 L119.02,190.19 L119.72,189.49 L120.41,188.79 L121.11,188.10 L121.80,187.40 L122.49,186.70 L123.19,186.01 L123.88,185.31 L124.57,184.61 L125.27,183.91 L125.96,183.21 L126.66,182.51 L127.35,181.81 L128.04,181.11 L128.74,180.40 L129.43,179.70 L130.12,179.00 L130.82,178.29 L131.51,177.59 L132.21,176.88 L132.90,176.18 L133.59,175.47 L134.29,174.76 L134.98,174.05 L135.67,173.34 L136.37,172.63 L137.06,171.91 L137.76,171.20 L138.45,170.48 L139.14,169.77 L139.84,169.05 L140.53,168.33 L141.22,167.61 L141.92,166.89 L142.61,166.17 L143.31,165.44 L144.00,164.72 L144.69,163.99 L145.39,163.26 L146.08,162.53 L146.77,161.80 L147.47,161.07 L148.16,160.34 L148.86,159.60 L149.55,158.86 L150.24,158.13 L150.94,157.39 L151.63,156.64 L152.32,155.90 L153.02,155.15 L153.71,154.41 L154.41,153.66 L155.10,152.91 L155.79,152.15 L156.49,151.40 L157.18,150.64 L157.87,149.89 L158.57,149.13 L159.26,148.36 L159.96,147.60 L160.65,146.84 L161.34,146.07 L162.04,145.30 L162.73,144.53 L163.42,143.75 L164.12,142.98 L164.81,142.20 L165.51,141.42 L166.20,140.64 L166.89,139.85 L167.59,139.07 L168.28,138.28 L168.97,137.49 L169.67,136.70 L170.36,135.90 L171.05,135.10 L171.75,134.30 L172.44,133.50 L173.14,132.70 L173.83,131.89 L174.52,131.08 L175.22,130.27 L175.91,129.46 L176.60,128.65 L177.30,127.83 L177.99,127.01 L178.69,126.19 L179.38,125.36 L180.07,124.53 L180.77,123.70 L181.46,122.87 L182.15,122.04 L182.85,121.20 L183.54,120.36 L184.24,119.52 L184.93,118.67 L185.62,117.83 L186.32,116.98 L187.01,116.13 L187.70,115.27 L188.40,114.41 L189.09,113.55 L189.79,112.69 L190.48,111.83 L191.17,110.96 L191.87,110.09 L192.56,109.22 L193.25,108.34 L193.95,107.46 L194.64,106.58 L195.34,105.70 L196.03,104.81 L196.72,103.93 L197.42,103.04 L198.11,102.14 L198.80,101.24 L199.50,100.35 L200.19,99.44 L200.89,98.54 L201.58,97.63 L202.27,96.72 L202.97,95.81 L203.66,94.89 L204.35,93.97 L205.05,93.05 L205.74,92.13 L206.44,91.20 L207.13,90.27 L207.82,89.34 L208.52,88.41 L209.21,87.47 L209.90,86.53 L210.60,85.58 L211.29,84.64 L211.99,83.69 L212.68,82.73 L213.37,81.78 L214.07,80.82 L214.76,79.86 L215.45,78.90 L216.15,77.93 L216.84,76.96 L217.54,75.99 L218.23,75.01 L218.92,74.04 L219.62,73.05 L220.31,72.07 L221.00,71.08 L221.70,70.09 L222.39,69.10 L223.08,68.11 L223.78,67.11 L224.47,66.10 L225.17,65.10 L225.86,64.09 L226.55,63.08 L227.25,62.07 L227.94,61.05 L228.63,60.03 L229.33,59.01 L230.02,57.98 L230.72,56.96 L231.41,55.92 L232.10,54.89 L232.80,53.85 L233.49,52.81 L234.18,51.77 L234.88,50.72 L235.57,49.67 L236.27,48.62 L236.96,47.56 L237.65,46.51 L238.35,45.44 L239.04,44.38 L239.73,43.31 L240.43,42.24 L241.12,41.17 L241.82,40.09 L242.51,39.01 L243.20,37.93 L243.90,36.84 L244.59,35.75 L245.28,34.66 L245.98,33.56 L246.67,32.46 L247.37,31.36 L248.06,30.26 L248.75,29.15 L249.45,28.04 L250.14,26.92 L250.83,25.81 L251.53,24.69 L252.22,23.56 L252.92,22.44 L253.61,21.31 L254.30,20.17 L255.00,19.04 L255.69,17.90 L256.38,16.75 L257.08,15.61 L257.77,14.46 L258.47,13.31 L259.16,12.15 L259.85,11.00 L260.55,9.83 L261.24,8.67 L261.93,7.50 L262.63,6.33 L263.32,5.16 " stroke="#ff0000" stroke-width="2.4"/>
<path d="M48.77,17.45 L48.88,31.32 L49.00,44.43 L49.11,56.81 L49.22,68.51 L49.34,79.58 L49.45,90.05 L49.56,99.97 L49.68,109.36 L49.79,118.26 L49.90,126.70 L50.02,134.70 L50.13,142.29 L50.24,149.49 L50.36,156.33 L50.47,162.82 L50.58,168.99 L50.70,174.86 L50.81,180.43 L50.92,185.73 L51.04,190.76 L51.15,195.55 L51.26,200.11 L51.38,204.45 L51.49,208.58 L51.60,212.51 L51.71,216.25 L51.83,219.81 L51.94,223.20 L52.05,226.43 L52.17,229.50 L52.28,232.43 L52.39,235.22 L52.51,237.88 L52.62,240.41 L52.73,242.82 L52.85,245.11 L52.96,247.30 L53.07,249.38 L53.19,251.37 L53.30,253.25 L53.41,255.05 L53.53,256.76 L53.64,258.39 L53.75,259.94 L53.87,261.41 L53.98,262.81 L54.09,264.15 L54.21,265.41 L54.32,266.62 L54.43,267.76 L54.55,268.84 L54.66,269.87 L54.77,270.85 L54.88,271.78 L55.00,272.65 L55.11,273.48 L55.22,274.27 L55.34,275.01 L55.45,275.71 L55.56,276.38 L55.68,277.00 L55.79,277.59 L55.90,278.14 L56.02,278.66 L56.13,279.15 L56.24,279.61 L56.36,280.03 L56.47,280.43 L56.58,280.81 L56.70,281.15 L56.81,281.47 L56.92,281.77 L57.04,282.04 L57.15,282.29 L57.26,282.52 L57.38,282.73 L57.49,282.92 L57.60,283.09 L57.72,283.24 L57.83,283.38 L57.94,283.50 L58.05,283.60 L58.17,283.68 L58.28,283.75 L58.39,283.81 L58.51,283.85 L58.62,283.88 L58.73,283.90 L58.85,283.90 L58.96,283.89 L59.07,283.87 L59.19,283.84 L59.30,283.80 L59.41,283.75 L59.53,283.69 L59.64,283.62 L59.75,283.54 L59.87,283.45 L59.98,283.35 L60.09,283.24 L60.21,283.13 L60.32,283.01 L60.43,282.88 L60.55,282.75 L60.66,282.61 L60.77,282.46 L60.89,282.31 L61.00,282.15 L61.11,281.98 L61.22,281.81 L61.34,281.64 L61.45,281.46 L61.56,281.27 L61.68,281.08 L61.79,280.89 L61.90,280.69 L62.02,280.49 L62.13,280.28 L62.24,280.07 L62.36,279.85 L62.47,279.64 L62.58,279.42 L62.70,279.19 L62.81,278.97 L62.92,278.74 L63.04,278.50 L63.15,278.27 L63.26,278.03 L63.38,277.79 L63.49,277.55 L63.60,277.30 L63.72,277.06 L63.83,276.81 L63.94,276.56 L64.06,276.30 L64.17,276.05 L64.28,275.79 L64.39,275.54 L64.51,275.28 L64.62,275.02 L64.73,274.76 L64.85,274.49 L64.96,274.23 L65.07,273.96 L65.19,273.70 L65.30,273.43 L65.41,273.16 L65.53,272.89 L65.64,272.62 L65.75,272.35 L65.87,272.08 L65.98,271.81 L66.09,271.54 L66.21,271.26 L66.32,270.99 L66.43,270.72 L66.55,270.44 L66.66,270.17 L66.77,269.89 L66.89,269.62 L67.00,269.34 L67.11,269.06 L67.23,268.79 L67.34,268.51 L67.45,268.24 L67.56,267.96 L67.68,267.68 L67.79,267.41 L67.90,267.13 L68.02,266.85 L68.13,266.58 L68.24,266.30 L68.36,266.02 L68.47,265.75 L68.58,265.47 L68.70,265.20 L68.81,264.92 L68.92,264.65 L69.04,264.37 L69.15,264.10 L69.26,263.82 L69.38,263.55 L69.49,263.27 L69.60,263.00 L69.72,262.73 L69.83,262.45 L69.94,262.18 L70.06,261.91 L70.17,261.64 L70.28,261.37 L70.40,261.10 L70.51,260.83 L70.62,260.56 L70.73,260.29 L70.85,260.02 L70.96,259.75 L71.07,259.48 L71.19,259.21 L71.30,258.95 L71.41,258.68 L71.53,258.41 L71.64,258.15 L71.75,257.88 L71.87,257.62 L71.98,257.36 L72.09,257.09 L72.21,256.83 L72.32,256.57 L72.43,256.31 L72.55,256.05 L72.66,255.79 L72.77,255.53 L72.89,255.27 L73.00,255.01 L73.11,254.75 L73.23,254.50 L73.34,254.24 L73.45,253.98 L73.57,253.73 L73.68,253.48 L73.79,253.22 L73.91,252.97 L74.02,252.72 L74.13,252.46 L74.24,252.21 L74.36,251.96 L74.47,251.71 L74.58,251.46 L74.70,251.22 L74.81,250.97 L74.92,250.72 L75.04,250.47 L75.15,250.23 L75.26,249.98 L75.38,249.74 L75.49,249.50 L75.60,249.25 L75.72,249.01 L75.83,248.77 L75.94,248.53 L76.06,248.29 L76.17,248.05 L76.28,247.81 L76.40,247.57 L76.51,247.33 L76.62,247.10 L76.74,246.86 L76.85,246.63 L76.96,246.39 L77.08,246.16 L77.19,245.92 L77.30,245.69 L77.41,245.46 L77.53,245.23 L77.64,245.00 L77.75,244.77 L77.87,244.54 L77.98,244.31 L78.09,244.08 L78.21,243.85 L78.32,243.63 L78.43,243.40 L78.55,243.18 L78.66,242.95 L78.77,242.73 L78.89,242.50 L79.00,242.28 L79.11,242.06 L79.23,241.84 L79.34,241.62 L79.45,241.40 L79.57,241.18 L79.68,240.96 L79.79,240.74 L79.91,240.52 L80.02,240.31 L80.13,240.09 L80.25,239.87 L80.36,239.66 L80.47,239.45 L80.58,239.23 L80.70,239.02 L80.81,238.81 L80.92,238.60 L81.04,238.38 L81.15,238.17 L81.26,237.96 L81.38,237.76 L81.49,237.55 L81.60,237.34 L81.72,237.13 L81.83,236.93 L81.94,236.72 L82.06,236.51 L82.17,236.31 L82.28,236.10 L82.40,235.90 L82.51,235.70 L82.62,235.50 L82.74,235.29 L82.85,235.09 L82.96,234.89 L83.08,234.69 L83.19,234.49 L83.30,234.29 L83.42,234.10 L83.53,233.90 L83.64,233.70 L83.75,233.51 L83.87,233.31 L83.98,233.11 L84.09,232.92 L84.21,232.72 L84.32,232.53 L84.43,232.34 L84.55,232.15 L84.66,231.95 L84.77,231.76 L84.89,231.57 L85.00,231.38 L85.11,231.19 L85.23,231.00 L85.34,230.81 L85.45,230.63 L85.57,230.44 L85.68,230.25 L85.79,230.06 L85.91,229.88 L86.02,229.69 L86.13,229.51 L86.25,229.32 L86.36,229.14 L86.47,228.96 L86.59,228.77 L86.70,228.59 L86.81,228.41 L86.92,228.23 L87.04,228.05 L87.15,227.87 L87.26,227.69 L87.38,227.51 L87.49,227.33 L87.60,227.15 L87.72,226.98 L87.83,226.80 L87.94,226.62 L88.06,226.45 L88.17,226.27 L88.28,226.09 L88.40,225.92 L88.51,225.75 L88.62,225.57 L88.74,225.40 L88.85,225.23 L88.96,225.05 L89.08,224.88 L89.19,224.71 L89.30,224.54 L89.42,224.37 L89.53,224.20 L89.64,224.03 L89.76,223.86 L89.87,223.69 L89.98,223.52 L90.09,223.35 L90.21,223.19 L90.32,223.02 L90.43,222.85 L90.55,222.69 L90.66,222.52 L90.77,222.36 L90.89,222.19 L91.00,222.03 L91.11,221.87 L91.23,221.70 L91.34,221.54 L91.45,221.38 L91.57,221.21 L91.68,221.05 L91.79,220.89 L91.91,220.73 L92.02,220.57 L92.13,220.41 L92.25,220.25 L92.36,220.09 L92.47,219.93 L92.59,219.77 L92.70,219.62 L92.81,219.46 L92.93,219.30 L93.04,219.15 L93.15,218.99 L93.26,218.83 L93.38,218.68 L93.49,218.52 L93.60,218.37 L93.72,218.21 L93.83,218.06 L93.94,217.91 L94.06,217.75 L94.17,217.60 L94.28,217.45 L94.40,217.29 L94.51,217.14 L94.62,216.99 L94.74,216.84 L94.85,216.69 L94.96,216.54 L95.08,216.39 L95.19,216.24 L95.30,216.09 L95.42,215.94 L95.53,215.79 L95.64,215.65 L95.76,215.50 L95.87,215.35 L95.98,215.20 L96.10,215.06 L96.21,214.91 L96.32,214.76 L96.43,214.62 L96.55,214.47 L96.66,214.33 L96.77,214.18 L96.89,214.04 L97.00,213.90 L97.11,213.75 L97.23,213.61 L97.34,213.47 L97.45,213.32 L97.57,213.18 L97.68,213.04 L97.79,212.90 L97.91,212.76 L98.02,212.62 L98.13,212.47 L98.25,212.33 L98.36,212.19 L98.47,212.05 L98.59,211.92 L98.70,211.78 L98.81,211.64 L98.93,211.50 L99.04,211.36 L99.15,211.22 L99.27,211.09 L99.38,210.95 L99.49,210.81 L99.60,210.67 L99.72,210.54 L99.83,210.40 L99.94,210.27 L100.06,210.13 L100.17,210.00 L100.28,209.86 L100.40,209.73 L100.51,209.59 L100.62,209.46 L100.74,209.32 L100.85,209.19 L100.96,209.06 L101.08,208.92 L101.19,208.79 L101.30,208.66 L101.42,208.53 L101.53,208.40 L101.64,208.26 L101.76,208.13 L101.87,208.00 L101.98,207.87 L102.10,207.74 L102.21,207.61 L102.32,207.48 L102.44,207.35 L102.55,207.22 L102.66,207.09 L102.77,206.96 L102.89,206.84 L103.00,206.71 L103.11,206.58 L103.23,206.45 L103.34,206.32 L103.45,206.20 L103.57,206.07 L103.68,205.94 L103.79,205.82 L103.91,205.69 L104.02,205.56 L104.13,205.44 L104.25,205.31 L104.36,205.19 L104.47,205.06 L104.59,204.94 L104.70,204.81 L104.81,204.69 L104.93,204.56 L105.04,204.44 L105.15,204.32 L105.27,204.19 L105.38,204.07 L105.49,203.95 L105.61,203.82 L105.72,203.70 L105.83,203.58 L105.94,203.46 L106.06,203.34 L106.17,203.21 L106.28,203.09 L106.40,202.97 L106.51,202.85 L106.62,202.73 L106.74,202.61 L106.85,202.49 L106.96,202.37 L107.08,202.25 L107.19,202.13 L107.30,202.01 L107.42,201.89 L107.53,201.77 L107.64,201.65 L107.76,201.54 L107.87,201.42 L107.98,201.30 L108.10,201.18 L108.21,201.06 L108.32,200.95 L108.44,200.83 L108.55,200.71 L108.66,200.60 L108.78,200.48 L108.89,200.36 L109.00,200.25 L109.11,200.13 L109.23,200.01 L109.34,199.90 L109.45,199.78 L109.57,199.67 L109.68,199.55 L109.79,199.44 L109.91,199.32 L110.02,199.21 L110.13,199.09 L110.25,198.98 L110.36,198.87 L110.47,198.75 L110.59,198.64 L110.70,198.53 L111.39,197.83 L112.09,197.15 L112.78,196.47 L113.47,195.80 L114.17,195.14 L114.86,194.48 L115.56,193.82 L116.25,193.18 L116.94,192.53 L117.64,191.90 L118.33,191.26 L119.02,190.64 L119.72,190.02 L120.41,189.40 L121.11,188.79 L121.80,188.18 L122.49,187.57 L123.19,186.97 L123.88,186.38 L124.57,185.78 L125.27,185.20 L125.96,184.61 L126.66,184.03 L127.35,183.45 L128.04,182.88 L128.74,182.31 L129.43,181.74 L130.12,181.17 L130.82,180.61 L131.51,180.05 L132.21,179.49 L132.90,178.94 L133.59,178.39 L134.29,177.84 L134.98,177.29 L135.67,176.75 L136.37,176.21 L137.06,175.67 L137.76,175.13 L138.45,174.59 L139.14,174.06 L139.84,173.53 L140.53,173.00 L141.22,172.47 L141.92,171.94 L142.61,171.42 L143.31,170.90 L144.00,170.37 L144.69,169.85 L145.39,169.33 L146.08,168.82 L146.77,168.30 L147.47,167.78 L148.16,167.27 L148.86,166.76 L149.55,166.25 L150.24,165.73 L150.94,165.22 L151.63,164.72 L152.32,164.21 L153.02,163.70 L153.71,163.19 L154.41,162.69 L155.10,162.18 L155.79,161.68 L156.49,161.18 L157.18,160.67 L157.87,160.17 L158.57,159.67 L159.26,159.17 L159.96,158.67 L160.65,158.16 L161.34,157.66 L162.04,157.16 L162.73,156.67 L163.42,156.17 L164.12,155.67 L164.81,155.17 L165.51,154.67 L166.20,154.17 L166.89,153.67 L167.59,153.17 L168.28,152.68 L168.97,152.18 L169.67,151.68 L170.36,151.18 L171.05,150.68 L171.75,150.19 L172.44,149.69 L173.14,149.19 L173.83,148.69 L174.52,148.19 L175.22,147.69 L175.91,147.19 L176.60,146.69 L177.30,146.20 L177.99,145.70 L178.69,145.20 L179.38,144.70 L180.07,144.19 L180.77,143.69 L181.46,143.19 L182.15,142.69 L182.85,142.19 L183.54,141.69 L184.24,141.18 L184.93,140.68 L185.62,140.18 L186.32,139.67 L187.01,139.17 L187.70,138.66 L188.40,138.16 L189.09,137.65 L189.79,137.14 L190.48,136.63 L191.17,136.13 L191.87,135.62 L192.56,135.11 L193.25,134.60 L193.95,134.09 L194.64,133.58 L195.34,133.06 L196.03,132.55 L196.72,132.04 L197.42,131.52 L198.11,131.01 L198.80,130.49 L199.50,129.98 L200.19,129.46 L200.89,128.94 L201.58,128.42 L202.27,127.90 L202.97,127.38 L203.66,126.86 L204.35,126.34 L205.05,125.81 L205.74,125.29 L206.44,124.77 L207.13,124.24 L207.82,123.71 L208.52,123.19 L209.21,122.66 L209.90,122.13 L210.60,121.60 L211.29,121.07 L211.99,120.54 L212.68,120.00 L213.37,119.47 L214.07,118.93 L214.76,118.40 L215.45,117.86 L216.15,117.32 L216.84,116.78 L217.54,116.24 L218.23,115.70 L218.92,115.16 L219.62,114.62 L220.31,114.07 L221.00,113.53 L221.70,112.98 L222.39,112.43 L223.08,111.89 L223.78,111.34 L224.47,110.79 L225.17,110.23 L225.86,109.68 L226.55,109.13 L227.25,108.57 L227.94,108.02 L228.63,107.46 L229.33,106.90 L230.02,106.34 L230.72,105.78 L231.41,105.22 L232.10,104.65 L232.80,104.09 L233.49,103.52 L234.18,102.96 L234.88,102.39 L235.57,101.82 L236.27,101.25 L236.96,100.68 L237.65,100.11 L238.35,99.53 L239.04,98.96 L239.73,98.38 L240.43,97.80 L241.12,97.22 L241.82,96.64 L242.51,96.06 L243.20,95.48 L243.90,94.90 L244.59,94.31 L245.28,93.72 L245.98,93.14 L246.67,92.55 L247.37,91.96 L248.06,91.37 L248.75,90.77 L249.45,90.18 L250.14,89.58 L250.83,88.99 L251.53,88.39 L252.22,87.79 L252.92,87.19 L253.61,86.59 L254.30,85.98 L255.00,85.38 L255.69,84.77 L256.38,84.17 L257.08,83.56 L257.77,82.95 L258.47,82.34 L259.16,81.72 L259.85,81.11 L260.55,80.49 L261.24,79.88 L261.93,79.26 L262.63,78.64 L263.32,78.02 L264.02,77.40 L264.71,76.77 L265.40,76.15 L266.10,75.52 L266.79,74.89 L267.48,74.26 L268.18,73.63 L268.87,73.00 L269.57,72.37 L270.26,71.73 L270.95,71.10 L271.65,70.46 L272.34,69.82 L273.03,69.18 L273.73,68.54 L274.42,67.89 L275.12,67.25 L275.81,66.60 L276.50,65.96 L277.20,65.31 L277.89,64.66 L278.58,64.00 L279.28,63.35 L279.97,62.70 L280.66,62.04 L281.36,61.38 L282.05,60.72 L282.75,60.06 L283.44,59.40 L284.13,58.74 L284.83,58.07 L285.52,57.41 L286.21,56.74 L286.91,56.07 L287.60,55.40 L288.30,54.73 L288.99,54.05 L289.68,53.38 L290.38,52.70 L291.07,52.02 L291.76,51.34 L292.46,50.66 L293.15,49.98 L293.85,49.29 L294.54,48.61 L295.23,47.92 L295.93,47.23 L296.62,46.54 L297.31,45.85 L298.01,45.16 L298.70,44.46 L299.40,43.77 L300.09,43.07 L300.78,42.37 L301.48,41.67 L302.17,40.97 L302.86,40.26 L303.56,39.56 L304.25,38.85 L304.95,38.14 L305.64,37.43 L306.33,36.72 L307.03,36.01 L307.72,35.30 L308.41,34.58 L309.11,33.86 L309.80,33.14 L310.50,32.42 L311.19,31.70 L311.88,30.98 L312.58,30.25 L313.27,29.53 L313.96,28.80 L314.66,28.07 L315.35,27.34 L316.05,26.60 L316.74,25.87 L317.43,25.13 L318.13,24.40 L318.82,23.66 L319.51,22.92 L320.21,22.18 L320.90,21.43 L321.60,20.69 L322.29,19.94 L322.98,19.19 L323.68,18.44 L324.37,17.69 L325.06,16.94 L325.76,16.18 L326.45,15.43 L327.15,14.67 L327.84,13.91 L328.53,13.15 L329.23,12.39 L329.92,11.62 L330.61,10.86 L331.31,10.09 L332.00,9.32 L332.69,8.55 L333.39,7.78 L334.08,7.01 L334.78,6.23 L335.47,5.45 L336.16,4.68 " stroke="#00e000" stroke-width="2.4"/>
<path d="M69.18,302.40 L69.28,301.75 L69.39,301.11 L69.49,300.47 L69.60,299.84 L69.70,299.21 L69.80,298.58 L69.91,297.96 L70.01,297.35 L70.12,296.73 L70.22,296.13 L70.32,295.52 L70.43,294.93 L70.53,294.33 L70.64,293.74 L70.74,293.16 L70.84,292.58 L70.95,292.00 L71.05,291.43 L71.16,290.86 L71.26,290.29 L71.37,289.73 L71.47,289.18 L71.57,288.62 L71.68,288.07 L71.78,287.53 L71.89,286.98 L71.99,286.45 L72.09,285.91 L72.20,285.38 L72.30,284.85 L72.41,284.33 L72.51,283.81 L72.61,283.29 L72.72,282.78 L72.82,282.27 L72.93,281.76 L73.03,281.26 L73.13,280.76 L73.24,280.26 L73.34,279.77 L73.45,279.28 L73.55,278.79 L73.65,278.31 L73.76,277.83 L73.86,277.35 L73.97,276.88 L74.07,276.40 L74.17,275.94 L74.28,275.47 L74.38,275.01 L74.49,274.55 L74.59,274.09 L74.70,273.64 L74.80,273.19 L74.90,272.74 L75.01,272.29 L75.11,271.85 L75.22,271.41 L75.32,270.97 L75.42,270.54 L75.53,270.10 L75.63,269.68 L75.74,269.25 L75.84,268.82 L75.94,268.40 L76.05,267.98 L76.15,267.57 L76.26,267.15 L76.36,266.74 L76.46,266.33 L76.57,265.93 L76.67,265.52 L76.78,265.12 L76.88,264.72 L76.98,264.32 L77.09,263.93 L77.19,263.54 L77.30,263.14 L77.40,262.76 L77.50,262.37 L77.61,261.99 L77.71,261.61 L77.82,261.23 L77.92,260.85 L78.03,260.48 L78.13,260.10 L78.23,259.73 L78.34,259.36 L78.44,259.00 L78.55,258.63 L78.65,258.27 L78.75,257.91 L78.86,257.55 L78.96,257.20 L79.07,256.84 L79.17,256.49 L79.27,256.14 L79.38,255.79 L79.48,255.44 L79.59,255.10 L79.69,254.76 L79.79,254.41 L79.90,254.08 L80.00,253.74 L80.11,253.40 L80.21,253.07 L80.31,252.74 L80.42,252.41 L80.52,252.08 L80.63,251.75 L80.73,251.43 L80.83,251.10 L80.94,250.78 L81.04,250.46 L81.15,250.14 L81.25,249.83 L81.36,249.51 L81.46,249.20 L81.56,248.89 L81.67,248.58 L81.77,248.27 L81.88,247.96 L81.98,247.66 L82.08,247.36 L82.19,247.05 L82.29,246.75 L82.40,246.45 L82.50,246.16 L82.60,245.86 L82.71,245.57 L82.81,245.27 L82.92,244.98 L83.02,244.69 L83.12,244.40 L83.23,244.12 L83.33,243.83 L83.44,243.55 L83.54,243.26 L83.64,242.98 L83.75,242.70 L83.85,242.42 L83.96,242.15 L84.06,241.87 L84.16,241.60 L84.27,241.32 L84.37,241.05 L84.48,240.78 L84.58,240.51 L84.68,240.24 L84.79,239.98 L84.89,239.71 L85.00,239.45 L85.10,239.18 L85.21,238.92 L85.31,238.66 L85.41,238.40 L85.52,238.14 L85.62,237.89 L85.73,237.63 L85.83,237.38 L85.93,237.12 L86.04,236.87 L86.14,236.62 L86.25,236.37 L86.35,236.12 L86.45,235.88 L86.56,235.63 L86.66,235.38 L86.77,235.14 L86.87,234.90 L86.97,234.66 L87.08,234.41 L87.18,234.18 L87.29,233.94 L87.39,233.70 L87.49,233.46 L87.60,233.23 L87.70,232.99 L87.81,232.76 L87.91,232.53 L88.01,232.30 L88.12,232.07 L88.22,231.84 L88.33,231.61 L88.43,231.38 L88.54,231.16 L88.64,230.93 L88.74,230.71 L88.85,230.49 L88.95,230.26 L89.06,230.04 L89.16,229.82 L89.26,229.60 L89.37,229.39 L89.47,229.17 L89.58,228.95 L89.68,228.74 L89.78,228.52 L89.89,228.31 L89.99,228.10 L90.10,227.89 L90.20,227.68 L90.30,227.47 L90.41,227.26 L90.51,227.05 L90.62,226.84 L90.72,226.63 L90.82,226.43 L90.93,226.22 L91.03,226.02 L91.14,225.82 L91.24,225.62 L91.34,225.42 L91.45,225.22 L91.55,225.02 L91.66,224.82 L91.76,224.62 L91.87,224.42 L91.97,224.23 L92.07,224.03 L92.18,223.84 L92.28,223.64 L92.39,223.45 L92.49,223.26 L92.59,223.07 L92.70,222.88 L92.80,222.69 L92.91,222.50 L93.01,222.31 L93.11,222.12 L93.22,221.93 L93.32,221.75 L93.43,221.56 L93.53,221.38 L93.63,221.19 L93.74,221.01 L93.84,220.83 L93.95,220.65 L94.05,220.47 L94.15,220.29 L94.26,220.11 L94.36,219.93 L94.47,219.75 L94.57,219.57 L94.67,219.39 L94.78,219.22 L94.88,219.04 L94.99,218.87 L95.09,218.69 L95.20,218.52 L95.30,218.35 L95.40,218.18 L95.51,218.01 L95.61,217.84 L95.72,217.67 L95.82,217.50 L95.92,217.33 L96.03,217.16 L96.13,216.99 L96.24,216.82 L96.34,216.66 L96.44,216.49 L96.55,216.33 L96.65,216.16 L96.76,216.00 L96.86,215.84 L96.96,215.68 L97.07,215.51 L97.17,215.35 L97.28,215.19 L97.38,215.03 L97.48,214.87 L97.59,214.71 L97.69,214.56 L97.80,214.40 L97.90,214.24 L98.00,214.08 L98.11,213.93 L98.21,213.77 L98.32,213.62 L98.42,213.46 L98.52,213.31 L98.63,213.16 L98.73,213.00 L98.84,212.85 L98.94,212.70 L99.05,212.55 L99.15,212.40 L99.25,212.25 L99.36,212.10 L99.46,211.95 L99.57,211.80 L99.67,211.66 L99.77,211.51 L99.88,211.36 L99.98,211.22 L100.09,211.07 L100.19,210.93 L100.29,210.78 L100.40,210.64 L100.50,210.49 L100.61,210.35 L100.71,210.21 L100.81,210.07 L100.92,209.93 L101.02,209.78 L101.13,209.64 L101.23,209.50 L101.33,209.36 L101.44,209.23 L101.54,209.09 L101.65,208.95 L101.75,208.81 L101.85,208.67 L101.96,208.54 L102.06,208.40 L102.17,208.27 L102.27,208.13 L102.38,208.00 L102.48,207.86 L102.58,207.73 L102.69,207.59 L102.79,207.46 L102.90,207.33 L103.00,207.20 L103.10,207.06 L103.21,206.93 L103.31,206.80 L103.42,206.67 L103.52,206.54 L103.62,206.41 L103.73,206.28 L103.83,206.16 L103.94,206.03 L104.04,205.90 L104.14,205.77 L104.25,205.65 L104.35,205.52 L104.46,205.39 L104.56,205.27 L104.66,205.14 L104.77,205.02 L104.87,204.89 L104.98,204.77 L105.08,204.65 L105.18,204.52 L105.29,204.40 L105.39,204.28 L105.50,204.16 L105.60,204.03 L105.71,203.91 L105.81,203.79 L105.91,203.67 L106.02,203.55 L106.12,203.43 L106.23,203.31 L106.33,203.19 L106.43,203.08 L106.54,202.96 L106.64,202.84 L106.75,202.72 L106.85,202.61 L106.95,202.49 L107.06,202.37 L107.16,202.26 L107.27,202.14 L107.37,202.03 L107.47,201.91 L107.58,201.80 L107.68,201.68 L107.79,201.57 L107.89,201.46 L107.99,201.34 L108.10,201.23 L108.20,201.12 L108.31,201.01 L108.41,200.89 L108.51,200.78 L108.62,200.67 L108.72,200.56 L108.83,200.45 L108.93,200.34 L109.04,200.23 L109.14,200.12 L109.24,200.01 L109.35,199.91 L109.45,199.80 L109.56,199.69 L109.66,199.58 L109.76,199.48 L109.87,199.37 L109.97,199.26 L110.08,199.16 L110.18,199.05 L110.28,198.94 L110.39,198.84 L110.49,198.73 L110.60,198.63 L110.70,198.53 L111.39,197.84 L112.09,197.16 L112.78,196.50 L113.47,195.86 L114.17,195.22 L114.86,194.60 L115.56,193.98 L116.25,193.38 L116.94,192.79 L117.64,192.22 L118.33,191.65 L119.02,191.09 L119.72,190.54 L120.41,190.00 L121.11,189.47 L121.80,188.95 L122.49,188.44 L123.19,187.94 L123.88,187.44 L124.57,186.96 L125.27,186.48 L125.96,186.01 L126.66,185.55 L127.35,185.09 L128.04,184.65 L128.74,184.21 L129.43,183.77 L130.12,183.35 L130.82,182.93 L131.51,182.51 L132.21,182.11 L132.90,181.71 L133.59,181.31 L134.29,180.92 L134.98,180.54 L135.67,180.16 L136.37,179.79 L137.06,179.42 L137.76,179.06 L138.45,178.70 L139.14,178.35 L139.84,178.01 L140.53,177.67 L141.22,177.33 L141.92,177.00 L142.61,176.67 L143.31,176.35 L144.00,176.03 L144.69,175.71 L145.39,175.40 L146.08,175.10 L146.77,174.80 L147.47,174.50 L148.16,174.20 L148.86,173.91 L149.55,173.63 L150.24,173.34 L150.94,173.06 L151.63,172.79 L152.32,172.52 L153.02,172.25 L153.71,171.98 L154.41,171.72 L155.10,171.46 L155.79,171.20 L156.49,170.95 L157.18,170.70 L157.87,170.45 L158.57,170.21 L159.26,169.97 L159.96,169.73 L160.65,169.49 L161.34,169.26 L162.04,169.03 L162.73,168.80 L163.42,168.58 L164.12,168.36 L164.81,168.14 L165.51,167.92 L166.20,167.70 L166.89,167.49 L167.59,167.28 L168.28,167.07 L168.97,166.87 L169.67,166.66 L170.36,166.46 L171.05,166.26 L171.75,166.07 L172.44,165.87 L173.14,165.68 L173.83,165.49 L174.52,165.30 L175.22,165.11 L175.91,164.93 L176.60,164.74 L177.30,164.56 L177.99,164.38 L178.69,164.21 L179.38,164.03 L180.07,163.86 L180.77,163.68 L181.46,163.51 L182.15,163.34 L182.85,163.18 L183.54,163.01 L184.24,162.85 L184.93,162.69 L185.62,162.53 L186.32,162.37 L187.01,162.21 L187.70,162.05 L188.40,161.90 L189.09,161.74 L189.79,161.59 L190.48,161.44 L191.17,161.29 L191.87,161.14 L192.56,161.00 L193.25,160.85 L193.95,160.71 L194.64,160.57 L195.34,160.43 L196.03,160.29 L196.72,160.15 L197.42,160.01 L198.11,159.87 L198.80,159.74 L199.50,159.61 L200.19,159.47 L200.89,159.34 L201.58,159.21 L202.27,159.08 L202.97,158.95 L203.66,158.83 L204.35,158.70 L205.05,158.58 L205.74,158.45 L206.44,158.33 L207.13,158.21 L207.82,158.09 L208.52,157.97 L209.21,157.85 L209.90,157.73 L210.60,157.61 L211.29,157.50 L211.99,157.38 L212.68,157.27 L213.37,157.16 L214.07,157.04 L214.76,156.93 L215.45,156.82 L216.15,156.71 L216.84,156.61 L217.54,156.50 L218.23,156.39 L218.92,156.28 L219.62,156.18 L220.31,156.07 L221.00,155.97 L221.70,155.87 L222.39,155.77 L223.08,155.67 L223.78,155.56 L224.47,155.47 L225.17,155.37 L225.86,155.27 L226.55,155.17 L227.25,155.07 L227.94,154.98 L228.63,154.88 L229.33,154.79 L230.02,154.69 L230.72,154.60 L231.41,154.51 L232.10,154.42 L232.80,154.33 L233.49,154.24 L234.18,154.15 L234.88,154.06 L235.57,153.97 L236.27,153.88 L236.96,153.79 L237.65,153.71 L238.35,153.62 L239.04,153.53 L239.73,153.45 L240.43,153.36 L241.12,153.28 L241.82,153.20 L242.51,153.12 L243.20,153.03 L243.90,152.95 L244.59,152.87 L245.28,152.79 L245.98,152.71 L246.67,152.63 L247.37,152.55 L248.06,152.47 L248.75,152.40 L249.45,152.32 L250.14,152.24 L250.83,152.17 L251.53,152.09 L252.22,152.02 L252.92,151.94 L253.61,151.87 L254.30,151.79 L255.00,151.72 L255.69,151.65 L256.38,151.58 L257.08,151.50 L257.77,151.43 L258.47,151.36 L259.16,151.29 L259.85,151.22 L260.55,151.15 L261.24,151.08 L261.93,151.01 L262.63,150.95 L263.32,150.88 L264.02,150.81 L264.71,150.74 L265.40,150.68 L266.10,150.61 L266.79,150.55 L267.48,150.48 L268.18,150.42 L268.87,150.35 L269.57,150.29 L270.26,150.22 L270.95,150.16 L271.65,150.10 L272.34,150.03 L273.03,149.97 L273.73,149.91 L274.42,149.85 L275.12,149.79 L275.81,149.73 L276.50,149.67 L277.20,149.61 L277.89,149.55 L278.58,149.49 L279.28,149.43 L279.97,149.37 L280.66,149.31 L281.36,149.25 L282.05,149.20 L282.75,149.14 L283.44,149.08 L284.13,149.03 L284.83,148.97 L285.52,148.91 L286.21,148.86 L286.91,148.80 L287.60,148.75 L288.30,148.69 L288.99,148.64 L289.68,148.58 L290.38,148.53 L291.07,148.48 L291.76,148.42 L292.46,148.37 L293.15,148.32 L293.85,148.27 L294.54,148.21 L295.23,148.16 L295.93,148.11 L296.62,148.06 L297.31,148.01 L298.01,147.96 L298.70,147.91 L299.40,147.86 L300.09,147.81 L300.78,147.76 L301.48,147.71 L302.17,147.66 L302.86,147.61 L303.56,147.56 L304.25,147.51 L304.95,147.47 L305.64,147.42 L306.33,147.37 L307.03,147.32 L307.72,147.28 L308.41,147.23 L309.11,147.18 L309.80,147.14 L310.50,147.09 L311.19,147.04 L311.88,147.00 L312.58,146.95 L313.27,146.91 L313.96,146.86 L314.66,146.82 L315.35,146.77 L316.05,146.73 L316.74,146.69 L317.43,146.64 L318.13,146.60 L318.82,146.56 L319.51,146.51 L320.21,146.47 L320.90,146.43 L321.60,146.38 L322.29,146.34 L322.98,146.30 L323.68,146.26 L324.37,146.22 L325.06,146.17 L325.76,146.13 L326.45,146.09 L327.15,146.05 L327.84,146.01 L328.53,145.97 L329.23,145.93 L329.92,145.89 L330.61,145.85 L331.31,145.81 L332.00,145.77 L332.69,145.73 L333.39,145.69 L334.08,145.65 L334.78,145.61 L335.47,145.58 L336.16,145.54 L336.86,145.50 L337.55,145.46 L338.24,145.42 L338.94,145.39 L339.63,145.35 L340.33,145.31 L341.02,145.27 L341.71,145.24 L342.41,145.20 L343.10,145.16 L343.79,145.13 L344.49,145.09 L345.18,145.05 L345.88,145.02 L346.57,144.98 L347.26,144.95 L347.96,144.91 L348.65,144.88 L349.34,144.84 L350.04,144.81 L350.73,144.77 L351.43,144.74 L352.12,144.70 L352.81,144.67 L353.51,144.63 L354.20,144.60 L354.89,144.57 L355.59,144.53 L356.28,144.50 L356.98,144.47 L357.67,144.43 L358.36,144.40 L359.06,144.37 L359.75,144.33 L360.44,144.30 L361.14,144.27 L361.83,144.23 L362.53,144.20 L363.22,144.17 L363.91,144.14 L364.61,144.11 L365.30,144.07 L365.99,144.04 L366.69,144.01 L367.38,143.98 L368.08,143.95 L368.77,143.92 L369.46,143.89 L370.16,143.86 L370.85,143.83 L371.54,143.79 L372.24,143.76 L372.93,143.73 L373.63,143.70 L374.32,143.67 L375.01,143.64 L375.71,143.61 L376.40,143.58 L377.09,143.55 L377.79,143.53 L378.48,143.50 L379.18,143.47 L379.87,143.44 L380.56,143.41 L381.26,143.38 L381.95,143.35 L382.64,143.32 L383.34,143.29 L384.03,143.27 L384.73,143.24 L385.42,143.21 L386.11,143.18 L386.81,143.15 L387.50,143.12 " stroke="#000" stroke-width="2.4" stroke-dasharray="4.75 3.94" stroke-dashoffset="-0.6"/>
</g>
<path d="M41.50,25.40 H387.50 V302.40 H41.50 Z" stroke="#888" stroke-width="1.05" fill="none"/>
<path d="M41.50,302.40 v-4.40 M41.50,25.40 v4.40 M55.34,302.40 v-2.90 M55.34,25.40 v2.90 M69.18,302.40 v-2.90 M69.18,25.40 v2.90 M83.02,302.40 v-2.90 M83.02,25.40 v2.90 M96.86,302.40 v-2.90 M96.86,25.40 v2.90 M110.70,302.40 v-4.40 M110.70,25.40 v4.40 M124.54,302.40 v-2.90 M124.54,25.40 v2.90 M138.38,302.40 v-2.90 M138.38,25.40 v2.90 M152.22,302.40 v-2.90 M152.22,25.40 v2.90 M166.06,302.40 v-2.90 M166.06,25.40 v2.90 M179.90,302.40 v-4.40 M179.90,25.40 v4.40 M193.74,302.40 v-2.90 M193.74,25.40 v2.90 M207.58,302.40 v-2.90 M207.58,25.40 v2.90 M221.42,302.40 v-2.90 M221.42,25.40 v2.90 M235.26,302.40 v-2.90 M235.26,25.40 v2.90 M249.10,302.40 v-4.40 M249.10,25.40 v4.40 M262.94,302.40 v-2.90 M262.94,25.40 v2.90 M276.78,302.40 v-2.90 M276.78,25.40 v2.90 M290.62,302.40 v-2.90 M290.62,25.40 v2.90 M304.46,302.40 v-2.90 M304.46,25.40 v2.90 M318.30,302.40 v-4.40 M318.30,25.40 v4.40 M332.14,302.40 v-2.90 M332.14,25.40 v2.90 M345.98,302.40 v-2.90 M345.98,25.40 v2.90 M359.82,302.40 v-2.90 M359.82,25.40 v2.90 M373.66,302.40 v-2.90 M373.66,25.40 v2.90 M387.50,302.40 v-4.40 M387.50,25.40 v4.40 M41.50,302.40 h4.40 M387.50,302.40 h-4.40 M41.50,285.09 h2.90 M387.50,285.09 h-2.90 M41.50,267.77 h2.90 M387.50,267.77 h-2.90 M41.50,250.46 h2.90 M387.50,250.46 h-2.90 M41.50,233.15 h4.40 M387.50,233.15 h-4.40 M41.50,215.84 h2.90 M387.50,215.84 h-2.90 M41.50,198.53 h2.90 M387.50,198.53 h-2.90 M41.50,181.21 h2.90 M387.50,181.21 h-2.90 M41.50,163.90 h4.40 M387.50,163.90 h-4.40 M41.50,146.59 h2.90 M387.50,146.59 h-2.90 M41.50,129.28 h2.90 M387.50,129.28 h-2.90 M41.50,111.96 h2.90 M387.50,111.96 h-2.90 M41.50,94.65 h4.40 M387.50,94.65 h-4.40 M41.50,77.34 h2.90 M387.50,77.34 h-2.90 M41.50,60.03 h2.90 M387.50,60.03 h-2.90 M41.50,42.71 h2.90 M387.50,42.71 h-2.90 M41.50,25.40 h4.40 M387.50,25.40 h-4.40" stroke="#9c9c9c" stroke-width="0.9" fill="none"/>
<text x="40.80" y="317.20" font-size="13.6" fill="#6a6a6a" text-anchor="middle">0</text>
<text x="110.00" y="317.20" font-size="13.6" fill="#6a6a6a" text-anchor="middle">1</text>
<text x="179.20" y="317.20" font-size="13.6" fill="#6a6a6a" text-anchor="middle">2</text>
<text x="248.40" y="317.20" font-size="13.6" fill="#6a6a6a" text-anchor="middle">3</text>
<text transform="translate(317.60,317.20) scale(1.06,0.97)" font-size="14" fill="#6a6a6a" text-anchor="middle">4</text>
<text x="386.80" y="317.20" font-size="13.6" fill="#6a6a6a" text-anchor="middle">5</text>
<text transform="translate(37.50,30.10) scale(1.06,0.97)" font-size="14" fill="#6a6a6a" text-anchor="end">4</text>
<text x="37.50" y="98.75" font-size="13.6" fill="#6a6a6a" text-anchor="end">2</text>
<text x="37.50" y="168.00" font-size="13.6" fill="#6a6a6a" text-anchor="end">0</text>
<text x="37.50" y="237.25" font-size="13.6" fill="#6a6a6a" text-anchor="end">2</text>
<path d="M21.2,233.35 h7.2" stroke="#6a6a6a" stroke-width="0.9"/>
<text transform="translate(37.50,306.10) scale(1.06,0.97)" font-size="14" fill="#6a6a6a" text-anchor="end">4</text>
<path d="M21.2,302.60 h7.2" stroke="#6a6a6a" stroke-width="0.9"/>
<text x="214.3" y="336.6" font-size="13.6" fill="#6a6a6a" font-style="italic" text-anchor="middle">r</text>
<text transform="translate(10.9,164.8) rotate(-90)" font-size="13.6" fill="#6a6a6a"><tspan x="-9.6" font-style="italic">f</tspan><tspan x="-2.4">(</tspan><tspan x="1.2" font-style="italic">r</tspan><tspan x="7.3">)</tspan></text>
<text y="12.9" font-size="15.5" x="194.8" fill="#6a6a6a" font-style="italic">β</text>
<text transform="translate(209.3,13.8) scale(1.18,1)" font-size="14" fill="#6a6a6a">=</text>
<text y="12.9" font-size="14" x="224.3" fill="#6a6a6a">1</text>
<path d="M169.60,208.50 h25.2" stroke="#0000ff" stroke-width="2"/>
<text y="212.10" font-size="13.3" fill="#1a1a1a"><tspan x="203.60" font-style="italic">F</tspan><tspan x="211.40" font-size="11.2" dy="2.9">0</tspan><tspan x="222.60" dy="-0.9">=</tspan></text>
<text x="233.60" y="212.20" font-size="14.2" fill="#1a1a1a">0.1</text>
<path d="M169.60,233.70 h25.2" stroke="#ff00ff" stroke-width="2"/>
<text y="237.30" font-size="13.3" fill="#1a1a1a"><tspan x="203.60" font-style="italic">F</tspan><tspan x="211.40" font-size="11.2" dy="2.9">0</tspan><tspan x="222.60" dy="-0.9">=</tspan></text>
<text x="233.60" y="237.40" font-size="14.2" fill="#1a1a1a">0.08</text>
<path d="M169.60,258.70 h25.2" stroke="#9f672f" stroke-width="2"/>
<text y="262.30" font-size="13.3" fill="#1a1a1a"><tspan x="203.60" font-style="italic">F</tspan><tspan x="211.40" font-size="11.2" dy="2.9">0</tspan><tspan x="222.60" dy="-0.9">=</tspan></text>
<text x="233.60" y="262.40" font-size="14.2" fill="#1a1a1a">0.06</text>
<path d="M287.10,208.50 h25.2" stroke="#ff0000" stroke-width="2"/>
<text y="212.10" font-size="13.3" fill="#1a1a1a"><tspan x="321.10" font-style="italic">F</tspan><tspan x="328.90" font-size="11.2" dy="2.9">0</tspan><tspan x="340.10" dy="-0.9">=</tspan></text>
<text x="351.10" y="212.20" font-size="14.2" fill="#1a1a1a">0.04</text>
<path d="M287.10,233.70 h25.2" stroke="#00e000" stroke-width="2"/>
<text y="237.30" font-size="13.3" fill="#1a1a1a"><tspan x="321.10" font-style="italic">F</tspan><tspan x="328.90" font-size="11.2" dy="2.9">0</tspan><tspan x="340.10" dy="-0.9">=</tspan></text>
<text x="351.10" y="237.40" font-size="14.2" fill="#1a1a1a">0.02</text>
<path d="M288.10,258.70 h22" stroke="#000" stroke-width="2.5" stroke-dasharray="4.4 4.3"/>
<text x="321.40" y="262.50" font-size="13.6" fill="#1a1a1a">SBH</text>
</svg></body></html>
